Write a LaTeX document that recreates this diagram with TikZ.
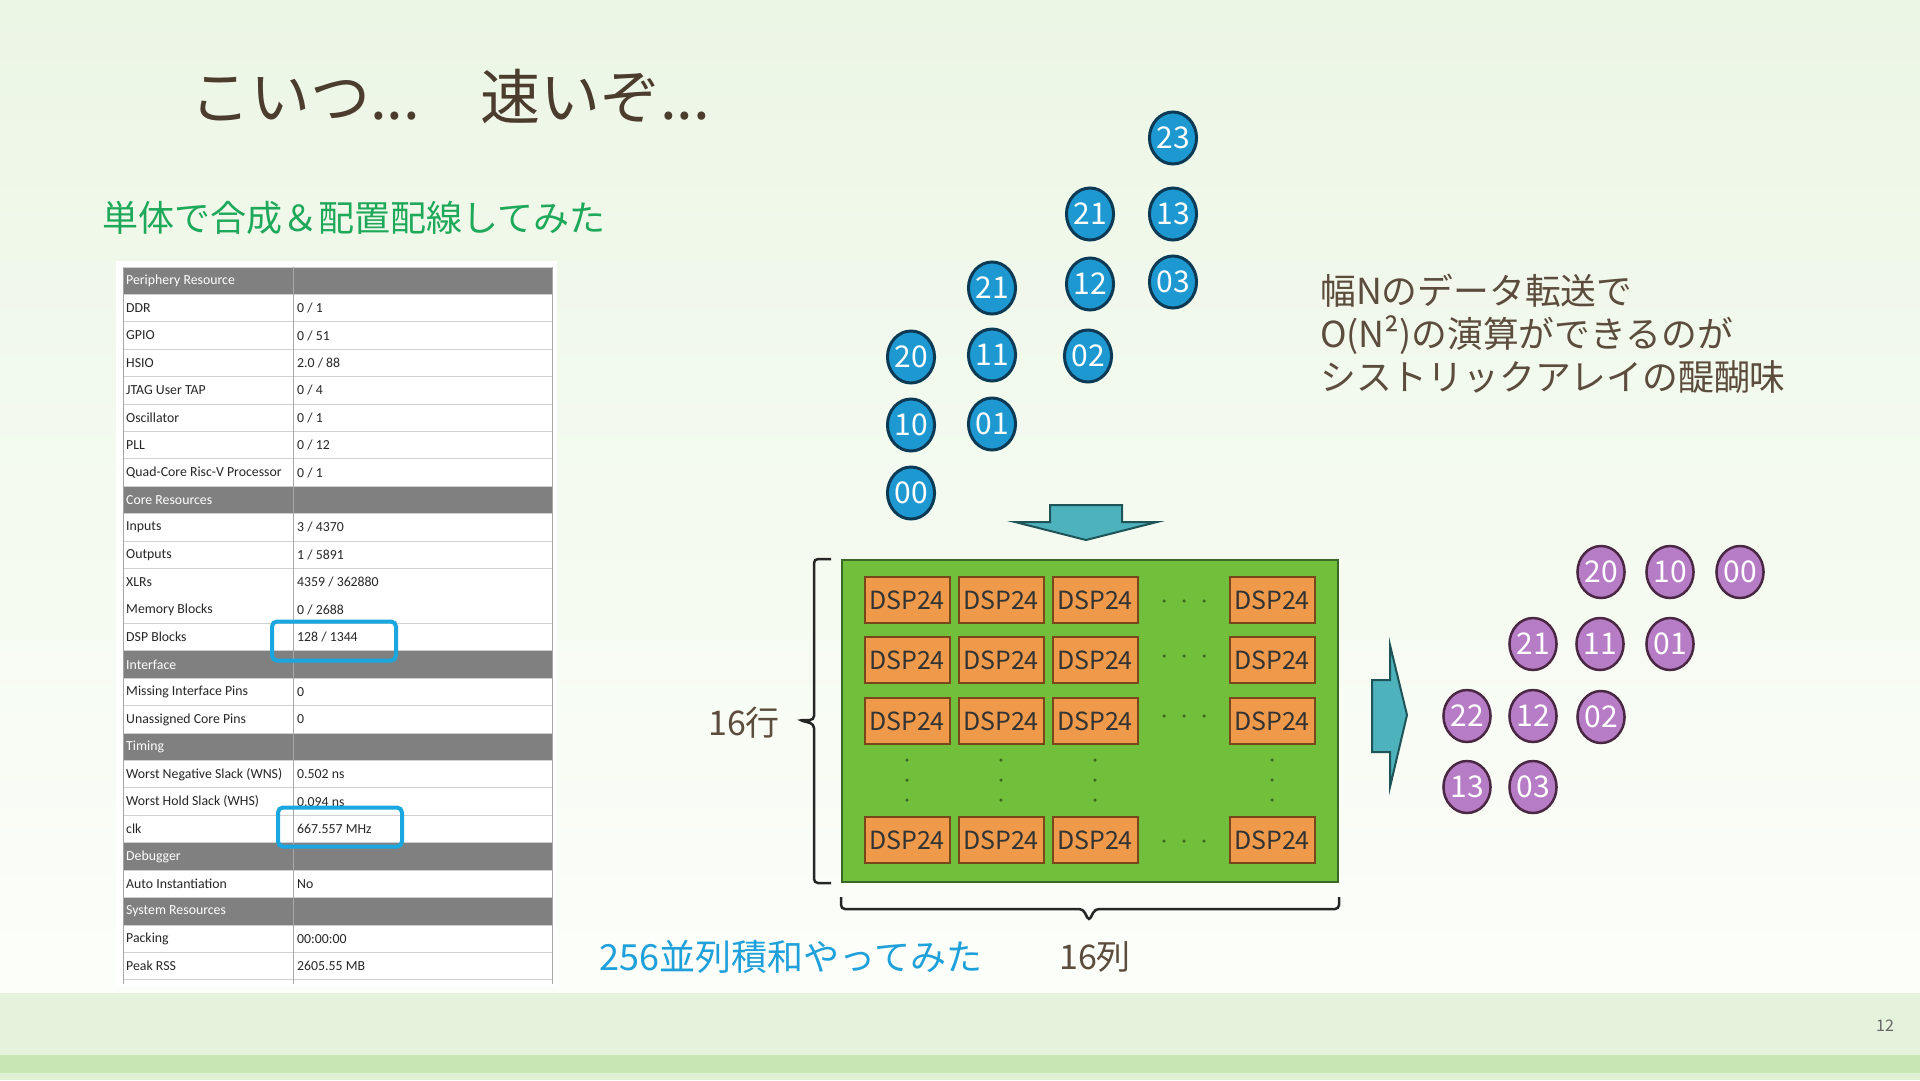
\documentclass[tikz,border=0pt]{standalone}
\usepackage{fontspec}
\setmainfont{Noto Sans CJK JP}
\newfontfamily\tabfont{Carlito}
\usetikzlibrary{shapes.geometric}
\definecolor{bgtop}{RGB}{236,246,229}
\definecolor{bgbot}{RGB}{252,254,250}
\definecolor{bandlight}{RGB}{229,242,220}
\definecolor{bandmid}{RGB}{200,230,180}
\definecolor{bandlow}{RGB}{224,240,211}
\definecolor{inkbrown}{RGB}{75,60,46}
\definecolor{textbrown}{RGB}{92,76,62}
\definecolor{subgreen}{RGB}{30,168,90}
\definecolor{skyblue}{RGB}{30,160,218}
\definecolor{ballblue}{RGB}{30,152,208}
\definecolor{balledge}{RGB}{12,58,85}
\definecolor{ballpurple}{RGB}{183,124,198}
\definecolor{purpleedge}{RGB}{74,40,68}
\definecolor{boardgreen}{RGB}{113,191,58}
\definecolor{boardedge}{RGB}{58,104,38}
\definecolor{dsporange}{RGB}{238,154,74}
\definecolor{dspedge}{RGB}{120,72,28}
\definecolor{arrowteal}{RGB}{78,178,188}
\definecolor{arrowedge}{RGB}{30,84,88}
\definecolor{headgray}{RGB}{128,128,128}
\definecolor{gridgray}{RGB}{208,208,208}
\definecolor{hiblue}{RGB}{26,167,224}
\newcommand{\px}[1]{\fontsize{#1}{#1}\selectfont}
\tikzset{txt/.style = {inner sep=0},
  inball/.style = {ellipse, draw=balledge, fill=ballblue, line width=3, minimum width=47,
    minimum height=52, inner sep=0, text=white, font={\px{30}}},
  outball/.style = {inball, draw=purpleedge, fill=ballpurple, line width=2.5},
  dsp/.style = {draw=dspedge, fill=dsporange, line width=2, minimum width=85,
    minimum height=46, inner sep=0, font={\px{25}}, text=black!80},
  cell/.style = {anchor=west, inner sep=0, font={\tabfont\px{13.8}}, text=black!85},
  headcell/.style = {cell, text=white},
  hilite/.style = {draw=hiblue, line width=4, rounded corners=5, minimum width=124, minimum height=39},
  dotmark/.style = {circle, fill=boardedge, inner sep=0, minimum size=3.5},
  curly/.style = {line width=2.5, draw=black!85, rounded corners=4},
  teal/.style = {fill=arrowteal, draw=arrowedge, line width=2, line join=miter}}

\begin{document}
\begin{tikzpicture}[x=1pt, y=-1pt]
  \useasboundingbox (0,0) rectangle (1920,1080);
  \shade[top color=bgtop, bottom color=bgbot] (0,0) rectangle (1920,993);
  \fill[bandlight] (0,993) rectangle (1920,1055);
  \fill[bandmid] (0,1055) rectangle (1920,1073);
  \fill[bandlow] (0,1073) rectangle (1920,1080);

  \node[txt, anchor=west, text=inkbrown, font={\px{60}}] (title) at (190,96) {こいつ...　速いぞ...};
  \node[txt, anchor=west, text=subgreen, font={\px{36}}] (synth) at (102,218) {単体で合成＆配置配線してみた};

  \fill[white] (116,261) rectangle (557,986);
  \foreach \i in {0,8,14,17,21,23}
    \fill[headgray] (123,{267+27.42*\i}) rectangle (552,{267+27.42*(\i+1)});
  \foreach \i in {0,...,11}
    \draw[gridgray, line width=1] (123,{267+27.42*\i}) -- (552,{267+27.42*\i});
  \foreach \i in {13,...,26}
    \draw[gridgray, line width=1] (123,{267+27.42*\i}) -- (552,{267+27.42*\i});
  \foreach \x in {123,293,552}
    \draw[gridgray!80!black, line width=1] (\x,267) -- (\x,984);
  \foreach \i/\lab in {0/Periphery Resource, 8/Core Resources, 14/Interface, 17/Timing,
      21/Debugger, 23/System Resources}
    \node[headcell] (h\i) at (126,{280.7+27.42*\i}) {\lab};
  \foreach \i/\lab/\val in {1/DDR/{0 / 1}, 2/GPIO/{0 / 51}, 3/HSIO/{2.0 / 88}, 4/JTAG User TAP/{0 / 4},
      5/Oscillator/{0 / 1}, 6/PLL/{0 / 12}, 7/Quad-Core Risc-V Processor/{0 / 1},
      9/Inputs/{3 / 4370}, 10/Outputs/{1 / 5891}, 11/XLRs/{4359 / 362880},
      12/Memory Blocks/{0 / 2688}, 13/DSP Blocks/{128 / 1344}, 15/Missing Interface Pins/0,
      16/Unassigned Core Pins/0, 18/Worst Negative Slack (WNS)/{0.502 ns},
      19/Worst Hold Slack (WHS)/{0.094 ns}, 20/clk/{667.557 MHz}, 22/Auto Instantiation/No,
      24/Packing/{00:00:00}, 25/Peak RSS/{2605.55 MB}}
  {
    \node[cell] (k\i) at (126,{280.7+27.42*\i}) {\lab};
    \node[cell] (v\i) at (297,{280.7+27.42*\i}) {\val};
  }
  \node[hilite] (dspbox) at (334,641) {};
  \node[hilite] (clkbox) at (340,827) {};

  \foreach \x/\y/\t [count=\k] in {911/357/20, 911/425/10, 911/493/00, 992/288/21, 992/355/11,
      992/424/01, 1090/214/21, 1090/284/12, 1088/356/02, 1173/138/23, 1173/214/13, 1173/282/03}
    \node[inball] (in\k) at (\x,\y) {\t};

  \draw[teal] (1050,505) -- (1122,505) -- (1122,522) -- (1157,522) -- (1086,540)
    -- (1015,522) -- (1050,522) -- cycle;

  \node[draw=boardedge, fill=boardgreen, line width=2, minimum width=496, minimum height=322,
    inner sep=0] (board) at (1090,721) {};
  \foreach \r/\y in {1/600, 2/660, 3/721, 4/840}
    \foreach \c/\x in {1/907, 2/1001, 3/1095, 4/1272}
      \node[dsp] (d\r\c) at (\x,\y) {DSP24};
  \foreach \y in {601,656,716,841}
    \foreach \x in {1164,1184,1204}
      \node[dotmark] at (\x,\y) {};
  \foreach \x in {907,1001,1095,1272}
    \foreach \y in {760,780,800}
      \node[dotmark] at (\x,\y) {};

  \draw[curly] ([xshift=-10]board.north west) -- ++(-17,0) |- ++(-15,161) -- ++(15,4)
    |- ([xshift=-10]board.south west);
  \draw[curly] ([yshift=-14]board.south west) -- ++(0,12) -- ++(242,0) -- ++(6,12) -- ++(6,-12)
    -| ([yshift=-14]board.south east);
  \node[txt, text=textbrown, font={\px{34}}] (rows) at (744,723) {16行};
  \node[txt, text=textbrown, font={\px{34}}] (cols) at (1095,957) {16列};
  \node[txt, text=skyblue, font={\px{36}}] (macs) at (791,957) {256並列積和やってみた};

  \draw[teal] (1372,680) -- (1390,680) -- (1390,645) -- (1407,715) -- (1390,787)
    -- (1390,752) -- (1372,752) -- cycle;

  \foreach \x/\y/\t [count=\k] in {1601/572/20, 1670/572/10, 1740/572/00, 1533/644/21, 1600/644/11,
      1670/644/01, 1467/716/22, 1533/716/12, 1601/717/02, 1467/787/13, 1533/787/03}
    \node[outball] (out\k) at (\x,\y) {\t};

  \node[txt, anchor=west, align=left, text=textbrown, font={\fontsize{35.8}{43}\selectfont}]
    (gain) at (1320,334) {幅Nのデータ転送で\\O(N²)の演算ができるのが\\シストリックアレイの醍醐味};
  \node[txt, text=black!60, font={\px{16}}] (page) at (1885,1026) {12};
\end{tikzpicture}
\end{document}
